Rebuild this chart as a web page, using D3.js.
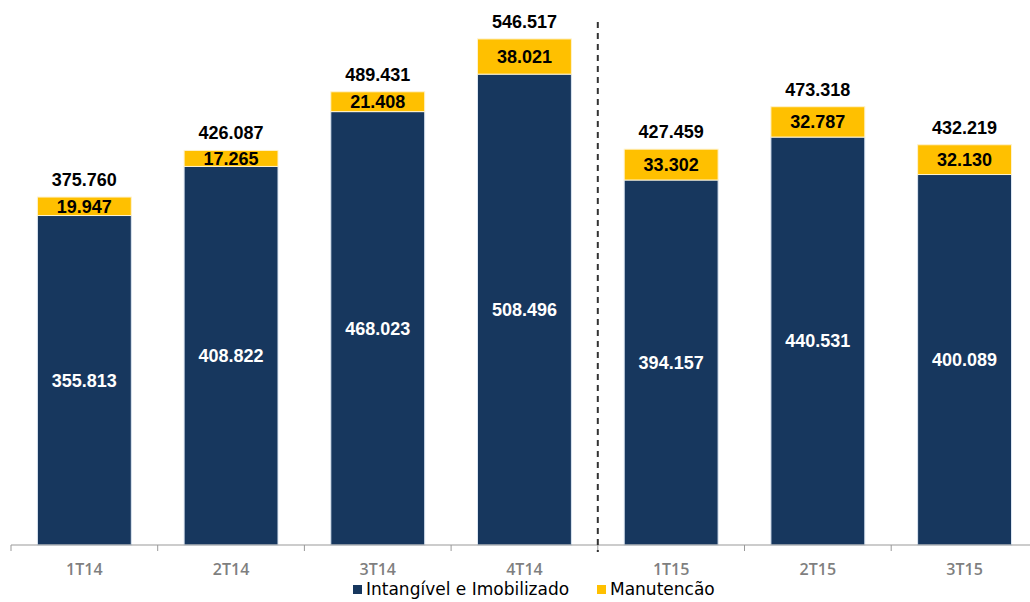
<!DOCTYPE html>
<html>
<head>
<meta charset="utf-8">
<script src="https://cdn.jsdelivr.net/npm/d3@7"></script>
<style>
  body { margin: 0; background: #fff; }
  svg { display: block; }
</style>
</head>
<body>
<div id="chart"></div>
<script>
const categories = ["1T14", "2T14", "3T14", "4T14", "1T15", "2T15", "3T15"];
const intangivel = [355.813, 408.822, 468.023, 508.496, 394.157, 440.531, 400.089];
const manutencao = [19.947, 17.265, 21.408, 38.021, 33.302, 32.787, 32.130];
const totals = [375.760, 426.087, 489.431, 546.517, 427.459, 473.318, 432.219];

const navy = "#17375e";
const yellow = "#ffc000";

const width = 1030, height = 602;
const left = 11, baseY = 545;
const band = 146.7;

const svg = d3.select("#chart")
    .append("svg")
    .attr("width", width)
    .attr("height", height);

const x = d3.scaleBand()
    .domain(categories)
    .range([left, left + band * categories.length])
    .paddingInner(0.36)
    .paddingOuter(0.18);

const y = d3.scaleLinear()
    .domain([0, 600])
    .range([baseY, baseY - 600 * 0.926]);

const fmt = v => v.toFixed(3);

// navy segment
svg.selectAll(".bar-base")
    .data(categories)
    .join("rect")
    .attr("class", "bar-base")
    .attr("x", d => x(d))
    .attr("width", x.bandwidth())
    .attr("y", (d, i) => y(intangivel[i]))
    .attr("height", (d, i) => y(0) - y(intangivel[i]))
    .attr("fill", navy)
    .attr("stroke", "#dce6f2")
    .attr("stroke-width", 1);

// yellow segment
svg.selectAll(".bar-top")
    .data(categories)
    .join("rect")
    .attr("class", "bar-top")
    .attr("x", d => x(d))
    .attr("width", x.bandwidth())
    .attr("y", (d, i) => y(intangivel[i] + manutencao[i]))
    .attr("height", (d, i) => y(intangivel[i]) - y(intangivel[i] + manutencao[i]))
    .attr("fill", yellow)
    .attr("stroke", "#fff2cc")
    .attr("stroke-width", 1);

const numFont = "'Liberation Sans', Arial, sans-serif";

// navy labels
svg.selectAll(".lbl-base")
    .data(categories)
    .join("text")
    .attr("x", d => x(d) + x.bandwidth() / 2)
    .attr("y", (d, i) => (y(intangivel[i]) + y(0)) / 2)
    .attr("dy", "0.35em")
    .attr("text-anchor", "middle")
    .attr("fill", "#fff")
    .style("font", `bold 18px ${numFont}`)
    .text((d, i) => fmt(intangivel[i]));

// yellow labels
svg.selectAll(".lbl-top")
    .data(categories)
    .join("text")
    .attr("x", d => x(d) + x.bandwidth() / 2)
    .attr("y", (d, i) => (y(intangivel[i]) + y(intangivel[i] + manutencao[i])) / 2)
    .attr("dy", "0.36em")
    .attr("text-anchor", "middle")
    .attr("fill", "#000")
    .style("font", `bold 18px ${numFont}`)
    .text((d, i) => fmt(manutencao[i]));

// totals
svg.selectAll(".lbl-total")
    .data(categories)
    .join("text")
    .attr("x", d => x(d) + x.bandwidth() / 2)
    .attr("y", (d, i) => y(totals[i]) - 11)
    .attr("text-anchor", "middle")
    .attr("fill", "#000")
    .style("font", `bold 18px ${numFont}`)
    .text((d, i) => fmt(totals[i]));

// x axis
const axis = svg.append("g")
    .attr("transform", `translate(0,${baseY})`);
axis.append("line")
    .attr("x1", left).attr("x2", width)
    .attr("stroke", "#999").attr("stroke-width", 1.2);
axis.selectAll(".tick")
    .data(d3.range(categories.length + 1))
    .join("line")
    .attr("x1", i => left + i * band)
    .attr("x2", i => left + i * band)
    .attr("y1", 0).attr("y2", 6)
    .attr("stroke", "#999");
axis.selectAll(".cat")
    .data(categories)
    .join("text")
    .attr("x", d => x(d) + x.bandwidth() / 2)
    .attr("y", 30)
    .attr("text-anchor", "middle")
    .attr("fill", "#7f7f7f")
    .style("font", "600 16px 'Open Sans', sans-serif")
    .text(d => d);

// dashed separator between 2014 and 2015
const sepX = left + 4 * band;
svg.append("line")
    .attr("x1", sepX).attr("x2", sepX)
    .attr("y1", 22).attr("y2", 552)
    .attr("stroke", "#333")
    .attr("stroke-width", 2)
    .attr("stroke-dasharray", "6,5");

// legend
const legendItems = [
    { label: "Intangível e Imobilizado", color: navy, x: 353 },
    { label: "Manutencão", color: yellow, x: 597 }
];
const legend = svg.selectAll(".legend")
    .data(legendItems)
    .join("g")
    .attr("transform", d => `translate(${d.x},591)`);
legend.append("rect")
    .attr("x", 0).attr("y", -6)
    .attr("width", 9).attr("height", 9)
    .attr("fill", d => d.color);
legend.append("text")
    .attr("x", 13)
    .attr("y", 4)
    .attr("fill", "#000")
    .style("font", "500 17px 'DejaVu Sans', sans-serif")
    .text(d => d.label);
</script>
</body>
</html>
